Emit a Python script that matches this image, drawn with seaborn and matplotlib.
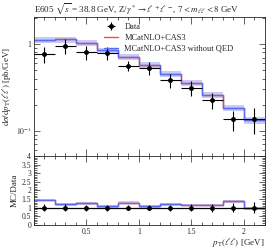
import numpy as np
import pandas as pd
import matplotlib
matplotlib.use("Agg")
import matplotlib.pyplot as plt
import seaborn as sns
from matplotlib.ticker import MultipleLocator, FixedLocator, LogLocator, NullFormatter, FuncFormatter

sns.set_style("ticks")
plt.rcParams['font.family'] = ['Liberation Serif', 'DejaVu Serif']
plt.rcParams['mathtext.fontset'] = 'stix'

# bins in pT(ll) [GeV]
bin_edges = [0.0, 0.2, 0.4, 0.6, 0.8, 1.0, 1.2, 1.4, 1.6, 1.8, 2.0, 2.2]
bin_centers = [0.1, 0.3, 0.5, 0.7, 0.9, 1.1, 1.3, 1.5, 1.7, 1.9, 2.1]
data_y = [0.77, 0.95, 0.81, 0.79, 0.56, 0.53, 0.38, 0.31, 0.226, 0.135, 0.137]
data_err = [0.16, 0.19, 0.15, 0.14, 0.075, 0.085, 0.067, 0.06, 0.05, 0.035, 0.045]
ratio_mc = [1.44, 1.19, 1.26, 1.07, 1.28, 1.09, 1.20, 1.15, 1.15, 1.37, 0.96]
band_rel = 0.08
ratio_ticks = [0.5, 1.0, 1.5, 2.0]

df = pd.DataFrame({"x": bin_centers, "y": data_y, "err": data_err, "ratio": ratio_mc})
df["mc"] = df["y"] * df["ratio"]
df["rerr"] = df["err"] / df["y"]

# step representation (last value repeated for the closing edge)
mc_steps = list(df["mc"]) + [df["mc"].iloc[-1]]
ratio_steps = list(df["ratio"]) + [df["ratio"].iloc[-1]]
steps = pd.DataFrame({"x": bin_edges, "mc": mc_steps, "ratio": ratio_steps})

fig = plt.figure(figsize=(2.74, 2.48), dpi=100)
ax = fig.add_axes([0.124, 0.371, 0.843, 0.56])
rax = fig.add_axes([0.124, 0.093, 0.843, 0.278], sharex=ax)

red = "#ff4a3a"
blue = "#5b6cf0"
bandc = "#b8bff5"

# main panel
ax.fill_between(steps["x"], steps["mc"] * (1 - band_rel), steps["mc"] * (1 + band_rel),
                step="post", color=bandc, alpha=0.8, lw=0)
sns.lineplot(data=steps, x="x", y="mc", ax=ax, color=red, lw=1.0, drawstyle="steps-post",
             label="MCatNLO+CAS3", estimator=None)
sns.lineplot(data=steps, x="x", y="mc", ax=ax, color=blue, lw=1.0, drawstyle="steps-post",
             label="MCatNLO+CAS3 without QED", estimator=None)
ax.errorbar(df["x"], df["y"], yerr=df["err"], xerr=0.1, fmt="o", ms=2.5, color="black",
            lw=0.8, capsize=0, label="Data", zorder=5)
ax.set_yscale("log")
ax.set_ylim(0.051, 2.05)
ax.set_xlim(0, 2.2)
ax.set_ylabel(r"$\mathrm{d}\sigma/\mathrm{d}p_\mathrm{T}(\ell\ell)$ [pb/GeV]", fontsize=6.5, labelpad=2)
ax.set_xlabel("")
ax.tick_params(labelbottom=False)
ax.yaxis.set_major_locator(LogLocator(base=10))
ax.yaxis.set_major_formatter(FuncFormatter(lambda v, p: "1" if abs(v - 1) < 1e-9 else r"$10^{%d}$" % round(np.log10(v))))
ax.yaxis.set_minor_locator(LogLocator(base=10, subs=np.arange(2, 10)))
ax.yaxis.set_minor_formatter(NullFormatter())
ax.set_title(r"E605 $\sqrt{s}$ = 38.8 GeV, Z/$\gamma^*\rightarrow\ell^+\ell^-$, $7 < m_{\ell\ell} < 8$ GeV",
             fontsize=6.5, loc="left", pad=3)

handles, labels = ax.get_legend_handles_labels()
order = [labels.index("Data"), labels.index("MCatNLO+CAS3"), labels.index("MCatNLO+CAS3 without QED")]
ax.legend([handles[i] for i in order], [labels[i] for i in order], loc="upper left",
          bbox_to_anchor=(0.28, 1.0), frameon=False, fontsize=6, handlelength=1.6,
          labelspacing=0.35, borderaxespad=0.3)

# ratio panel
rax.fill_between(steps["x"], steps["ratio"] - band_rel, steps["ratio"] + band_rel,
                 step="post", color=bandc, alpha=0.8, lw=0)
sns.lineplot(data=steps, x="x", y="ratio", ax=rax, color=red, lw=1.0, drawstyle="steps-post",
             estimator=None)
sns.lineplot(data=steps, x="x", y="ratio", ax=rax, color=blue, lw=1.0, drawstyle="steps-post",
             estimator=None)
rax.axhline(1.0, color="black", lw=0.9)
rax.errorbar(df["x"], [1.0] * len(df), yerr=df["rerr"], fmt="o", ms=2.5, color="black",
             lw=0.8, capsize=0, zorder=5)
rax.set_ylim(0, 4)
rax.set_xlim(0, 2.2)
rax.set_ylabel("MC/Data", fontsize=6.5, labelpad=2)
rax.set_xlabel(r"$p_\mathrm{T}(\ell\ell)$ [GeV]", fontsize=6.5, loc="right", labelpad=0)
rax.yaxis.set_major_locator(MultipleLocator(0.5))
rax.yaxis.set_minor_locator(MultipleLocator(0.1))
rax.yaxis.set_major_formatter(FuncFormatter(lambda v, p: f"{v:g}"))
rax.xaxis.set_major_locator(FixedLocator(ratio_ticks))
rax.xaxis.set_major_formatter(FuncFormatter(lambda v, p: f"{v:g}"))
rax.xaxis.set_minor_locator(MultipleLocator(0.1))

for a in (ax, rax):
    a.tick_params(which="both", direction="in", top=True, right=True, labelsize=5.5, width=0.5, pad=2)
    a.tick_params(which="major", length=4)
    a.tick_params(which="minor", length=2)
    for s in a.spines.values():
        s.set_linewidth(0.6)
ax.tick_params(axis="x", which="major", length=5)

fig.savefig("out.png", dpi=100)
